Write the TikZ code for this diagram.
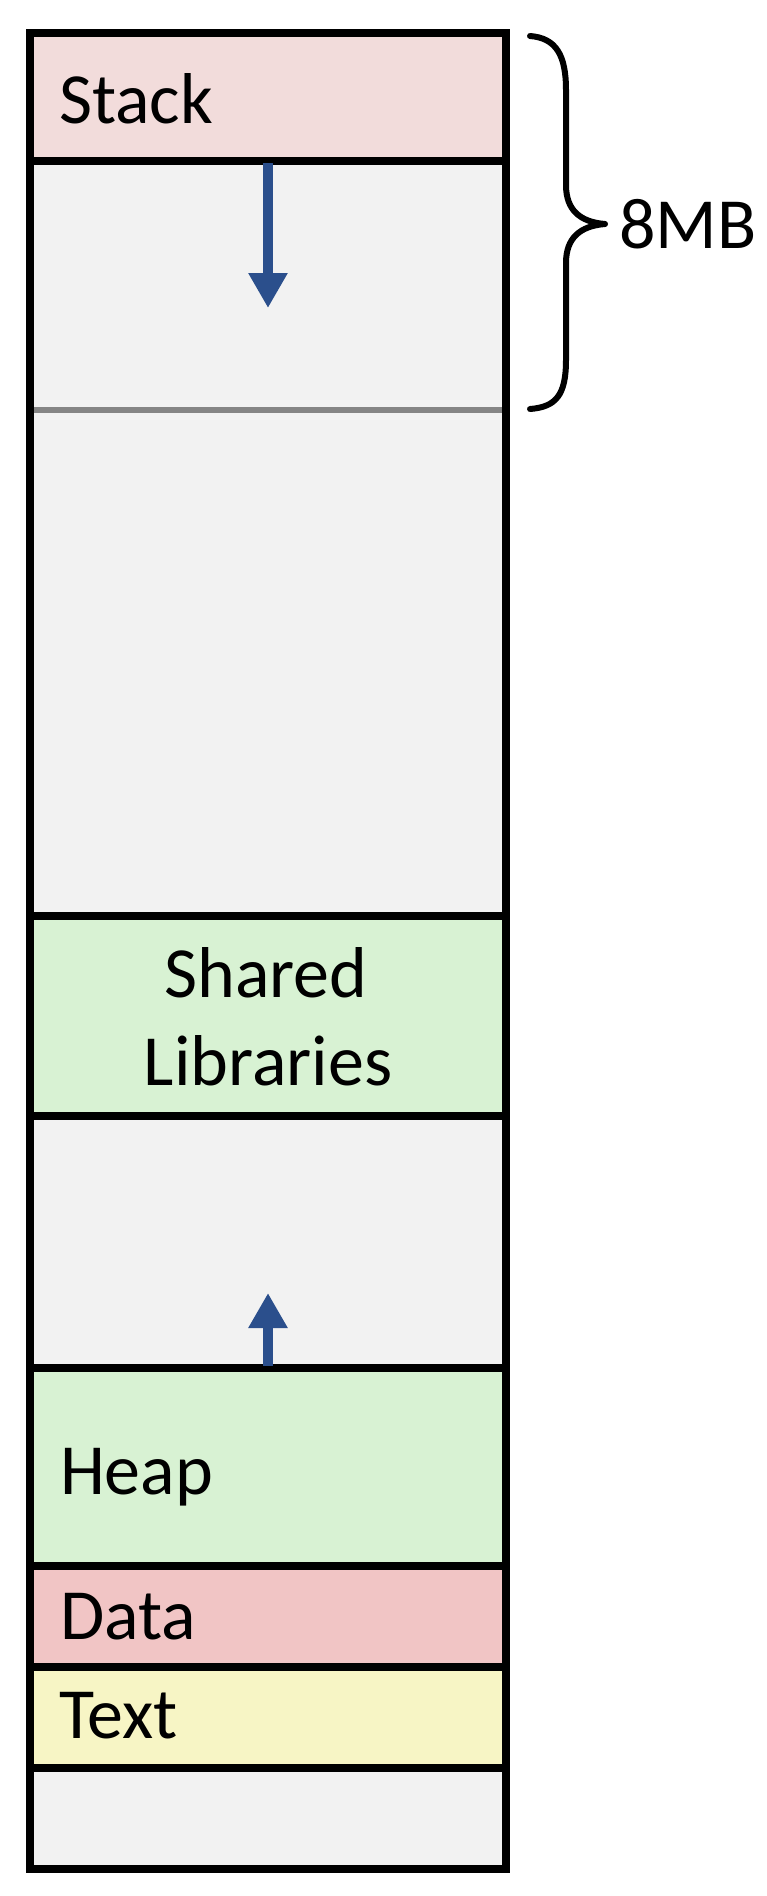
\documentclass[tikz,border=0pt]{standalone}
\usepackage{fontspec}
\setmainfont{Carlito}
\usetikzlibrary{arrows.meta}
\definecolor{stackpink}{HTML}{F2DCDB}
\definecolor{datapink}{HTML}{F1C5C5}
\definecolor{libgreen}{HTML}{D8F2D3}
\definecolor{textyellow}{HTML}{F7F5C5}
\definecolor{freegray}{HTML}{F2F2F2}
\definecolor{linegray}{HTML}{858585}
\definecolor{arrowblue}{HTML}{2B4F8C}
\begin{document}
\begin{tikzpicture}[x=1pt,y=-1pt,
  seg/.style={rectangle,draw=black,line width=8pt,minimum width=476pt,inner sep=0pt,outer sep=0pt},
  lbl/.style={font=\fontsize{72}{88}\selectfont,inner sep=0pt,outer sep=0pt,anchor=base west},
  clbl/.style={font=\fontsize{72}{88}\selectfont,inner sep=0pt,outer sep=0pt,anchor=base},
  growarrow/.style={draw=arrowblue,line width=10pt,-{Triangle[length=35pt,width=37pt]}},
  bracestyle/.style={draw=black,line width=6pt,line cap=round,line join=round}]
\useasboundingbox (0,0) rectangle (767,1896);

% memory segments
\node[seg,fill=stackpink,minimum height=128pt] (stack) at (268,97) {};
\node[seg,fill=freegray,minimum height=755pt] (free) at (268,538.5) {};
\node[seg,fill=libgreen,minimum height=200pt] (shared) at (268,1016) {};
\node[seg,fill=freegray,minimum height=252pt] (gap) at (268,1242) {};
\node[seg,fill=libgreen,minimum height=198pt] (heap) at (268,1467) {};
\node[seg,fill=datapink,minimum height=101pt] (data) at (268,1616.5) {};
\node[seg,fill=textyellow,minimum height=101pt] (text) at (268,1717.5) {};
\node[seg,fill=freegray,minimum height=101pt] (bottom) at (268,1818.5) {};

% 8MB boundary line
\coordinate (gl) at (34,410);
\coordinate (gr) at (502,410);
\draw[draw=linegray,line width=6pt] (gl) -- (gr);

% labels
\node[lbl] (stacklbl) at (59,123) {Stack};
\node[clbl] (sharedlbl) at (266,997) {Shared};
\node[clbl] (liblbl) at (268,1085) {Libraries};
\node[lbl] (heaplbl) at (60,1494) {Heap};
\node[lbl] (datalbl) at (60,1639) {Data};
\node[lbl] (textlbl) at (59,1738) {Text};

% growth arrows
\coordinate (dtip) at (268,308);
\coordinate (utip) at (268,1293);
\draw[growarrow] ([yshift=-2pt]stack.south) -- (dtip);
\draw[growarrow] ([yshift=2pt]heap.north) -- (utip);

% brace and size label
\coordinate (btop) at (530,36);
\coordinate (btip) at (605,224);
\coordinate (bbot) at (530,409);
\draw[bracestyle] (btop) .. controls (556,38) and (566,55) .. (566,90)
  -- (566,185) .. controls (566,210) and (580,222) .. (btip)
  .. controls (580,226) and (566,238) .. (566,263)
  -- (566,360) .. controls (566,395) and (556,407) .. (bbot);
\node[lbl] (mb) at (619,248) {8MB};
\end{tikzpicture}
\end{document}
